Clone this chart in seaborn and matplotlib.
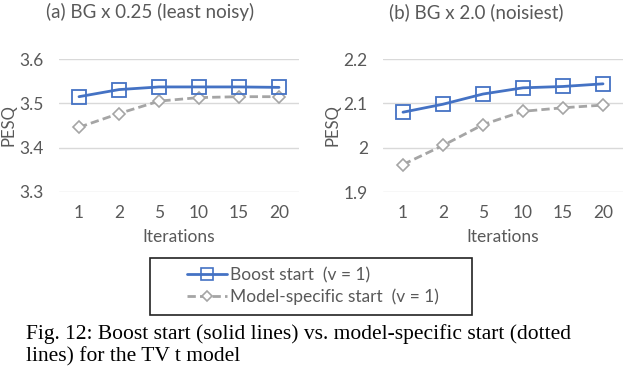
import pandas as pd
import matplotlib.pyplot as plt
import seaborn as sns
from matplotlib.lines import Line2D
from matplotlib.patches import Rectangle

# data
iterations = ["1", "2", "5", "10", "15", "20"]
boost_least_noisy = [3.515, 3.531, 3.537, 3.537, 3.537, 3.536]
model_least_noisy = [3.446, 3.477, 3.505, 3.513, 3.515, 3.515]
boost_noisiest = [2.080, 2.098, 2.121, 2.135, 2.138, 2.144]
model_noisiest = [1.962, 2.005, 2.052, 2.082, 2.090, 2.096]

titles = ["(a) BG x 0.25 (least noisy)", "(b) BG x 2.0 (noisiest)"]
yticks = [[3.3, 3.4, 3.5, 3.6], [1.9, 2.0, 2.1, 2.2]]
ytick_labels = [["3.3", "3.4", "3.5", "3.6"], ["1.9", "2", "2.1", "2.2"]]
legend_labels = ["Boost start  (v = 1)", "Model-specific start  (v = 1)"]
caption = ("Fig. 12: Boost start (solid lines) vs. model-specific start (dotted\n"
           "lines) for the TV t model")

blue = "#4472C4"
gray = "#A5A5A5"
text_gray = "#595959"

sns.set_theme(style="white")
plt.rcParams["font.family"] = ["Lato", "DejaVu Sans"]

fig = plt.figure(figsize=(6.24, 3.72), dpi=100)
ax_a = fig.add_axes([59 / 624, 1 - 192 / 372, 240 / 624, 133 / 372])
ax_b = fig.add_axes([383 / 624, 1 - 192 / 372, 240 / 624, 133 / 372])

panels = [(ax_a, boost_least_noisy, model_least_noisy),
          (ax_b, boost_noisiest, model_noisiest)]

for i, (ax, boost, model) in enumerate(panels):
    df = pd.DataFrame({"it": iterations, "boost": boost, "model": model})
    sns.lineplot(data=df, x="it", y="model", ax=ax, color=gray, lw=2,
                 linestyle=(0, (3, 1.5)), marker="D", markersize=6.5,
                 markerfacecolor="white", markeredgecolor=gray,
                 markeredgewidth=1.2, sort=False)
    sns.lineplot(data=df, x="it", y="boost", ax=ax, color=blue, lw=2,
                 marker="s", markersize=10, markerfacecolor="none",
                 markeredgecolor=blue, markeredgewidth=1.3, sort=False)
    ax.set_xlim(-0.5, 5.5)
    ax.set_ylim(yticks[i][0], yticks[i][-1])
    ax.set_yticks(yticks[i])
    ax.set_yticklabels(ytick_labels[i])
    ax.yaxis.grid(True, color="#D9D9D9", lw=1)
    ax.set_axisbelow(True)
    for s in ax.spines.values():
        s.set_visible(False)
    ax.tick_params(axis="both", length=0, labelsize=12.5, colors=text_gray)
    ax.tick_params(axis="y", pad=11)
    ax.tick_params(axis="x", pad=9)
    ax.set_xlabel("Iterations", fontsize=12.5, color=text_gray, labelpad=6)
    ax.set_ylabel("PESQ", fontsize=12, color=text_gray)
    ax.yaxis.set_label_coords(-0.175, 0.5)
    ax.patch.set_alpha(0)

fig.text(150 / 624, 1 - 12 / 372, titles[0], ha="center", va="center",
         fontsize=13.5, color=text_gray)
fig.text(476 / 624, 1 - 12 / 372, titles[1], ha="center", va="center",
         fontsize=13.5, color=text_gray)

# legend box below the panels
handles = [
    Line2D([], [], color=blue, lw=2, marker="s", markersize=8,
           markerfacecolor="none", markeredgecolor=blue, markeredgewidth=1.2),
    Line2D([], [], color=gray, lw=2, linestyle=(0, (3, 1.5)), marker="D",
           markersize=5.5, markerfacecolor="white", markeredgecolor=gray,
           markeredgewidth=1.2),
]
fig.legend(handles, legend_labels, loc="center",
           bbox_to_anchor=(313 / 624, 1 - 286 / 372), frameon=False,
           fontsize=12.5, labelcolor=text_gray, handlelength=2.3,
           handletextpad=0.15, labelspacing=0.3)
fig.add_artist(Rectangle((150 / 624, 1 - 315 / 372), 322 / 624, 57 / 372,
                         transform=fig.transFigure, fill=False,
                         edgecolor="#222222", lw=1.2))

fig.text(26 / 624, 1 - 345 / 372, caption, ha="left", va="center",
         fontsize=15.5, family="Liberation Serif", color="black",
         linespacing=1.2)

fig.savefig("out.png", dpi=100)
